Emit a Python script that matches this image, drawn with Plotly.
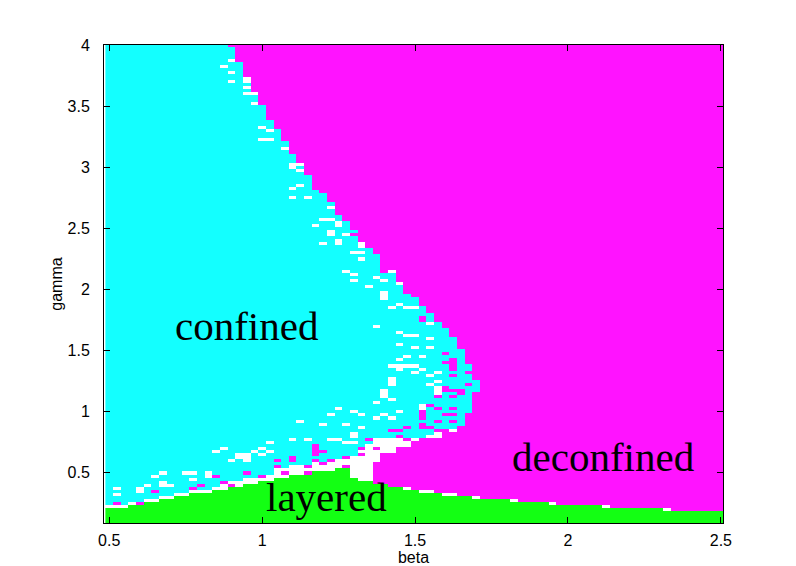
import numpy as np
import plotly.graph_objects as go

# scan grid (cell centres)
beta = np.round(np.arange(0.5, 2.5001, 0.025), 3)
gamma = np.round(np.arange(0.1, 4.0001, 0.025), 3)

# top green (layered) cell in every beta column
layered_top = [0.2, 0.2, 0.2, 0.225, 0.225, 0.25, 0.25, 0.275, 0.275, 0.3, 0.3,
               0.325, 0.325, 0.325, 0.35, 0.35, 0.375, 0.375, 0.4, 0.4, 0.425, 0.425,
               0.45, 0.45, 0.475, 0.475, 0.475, 0.5, 0.5, 0.5, 0.525, 0.525,
               0.45, 0.425, 0.425, 0.4, 0.4, 0.375, 0.375, 0.35, 0.35, 0.325, 0.325,
               0.325, 0.3, 0.3, 0.3, 0.3, 0.275, 0.275, 0.275, 0.275, 0.275,
               0.25, 0.25, 0.25, 0.25, 0.25, 0.225, 0.225, 0.225, 0.225, 0.225, 0.225, 0.225,
               0.2, 0.2, 0.2, 0.2, 0.2, 0.2, 0.2, 0.2,
               0.175, 0.175, 0.175, 0.175, 0.175, 0.175, 0.175, 0.175]

# lowest cyan (confined) cell in every beta column, white below it
confined_low = [0.25, 0.25, 0.25, 0.275, 0.275, 0.3, 0.3, 0.325, 0.325, 0.35, 0.35,
                0.375, 0.375, 0.375, 0.4, 0.425, 0.45, 0.45, 0.475, 0.475, 0.5, 0.5,
                0.55, 0.55, 0.575, 0.575, 0.575, 0.6, 0.6, 0.6, 0.625, 0.625,
                0.65, 0.7, 0.75, 0.8, 0.8, 0.8, 0.8, 0.8, 0.8, 0.8, 0.825,
                0.85, 0.85, 0.875, 0.9] + [1.0] * 34

# confined / deconfined edge: from gamma >= edge_gamma the last cyan column is edge_beta
edge_gamma = [4.0, 3.875, 3.75, 3.625, 3.525, 3.4, 3.325, 3.225, 3.125, 3.025,
              2.95, 2.825, 2.8, 2.725, 2.625, 2.575, 2.5, 2.4, 2.35, 2.3,
              2.15, 2.075, 1.975, 1.95, 1.875, 1.825, 1.75, 1.7, 1.625, 1.525,
              1.4, 1.275, 1.15, 1.0, 0.9, 0.85, 0.8, 0.775, 0.725, 0.675, 0.6, 0.1]
edge_beta = [0.875, 0.9, 0.925, 0.95, 0.975, 1.0, 1.025, 1.05, 1.075, 1.1,
             1.125, 1.15, 1.175, 1.2, 1.225, 1.25, 1.275, 1.3, 1.325, 1.35,
             1.375, 1.425, 1.45, 1.475, 1.5, 1.525, 1.55, 1.575, 1.6, 1.625,
             1.65, 1.675, 1.7, 1.675, 1.65, 1.625, 1.575, 1.5, 1.475, 1.425, 1.375, 1.35]

# undetermined (white) points
white_beta = [0.9, 0.875, 0.9, 0.9, 0.95, 0.95, 0.95, 0.95, 0.975, 0.975, 1.0, 1.025, 1.0, 1.025,
              1.075, 1.1, 1.1, 1.125, 1.125, 1.125, 1.1, 1.1, 1.15, 1.225, 1.2, 1.225, 1.25,
              1.175, 1.25, 1.225, 1.225, 1.275, 1.25, 1.25, 1.2, 1.325, 1.325, 1.3, 1.325,
              1.325, 1.275, 1.3, 1.3, 1.375, 1.4, 1.35, 1.425, 1.45, 1.4, 1.4, 1.4, 1.425,
              1.45, 1.475, 1.5, 1.375, 1.55, 1.45, 1.475, 1.5, 1.55, 1.45, 1.5, 1.55, 1.475,
              1.525, 1.45, 1.425, 1.45, 1.475, 1.5, 1.45, 1.525, 1.5, 1.575, 1.55, 1.425,
              1.425, 1.425, 1.55, 1.575, 1.4, 1.4, 1.4, 1.575, 1.575, 1.575, 1.375, 1.425,
              1.45, 1.525, 1.525, 1.25, 1.3, 1.325, 1.4, 1.275, 1.325, 1.375, 1.425, 1.3,
              1.3, 1.225, 1.25, 1.275, 1.3, 0.525, 0.525, 0.6, 0.6, 0.625, 0.65, 0.675,
              0.675, 0.675, 0.7, 0.75, 0.775, 0.775, 0.825, 0.825, 0.85, 0.875, 0.9, 0.925,
              0.95, 0.95, 0.975, 1.0, 1.025, 1.0, 1.1, 1.125, 1.15, 1.2, 1.225, 1.025,
              0.95, 0.925, 1.475, 1.525, 1.55, 1.6, 1.625, 1.7, 1.825, 1.95, 2.125, 2.325]
white_gamma = [3.875, 3.825, 3.775, 3.7, 3.725, 3.7, 3.65, 3.6, 3.6, 3.525, 3.325, 3.3, 3.225, 3.225,
               3.15, 3.025, 3.0, 3.025, 2.975, 2.85, 2.825, 2.75, 2.75, 2.675, 2.575, 2.575, 2.55,
               2.525, 2.525, 2.475, 2.45, 2.45, 2.4, 2.375, 2.375, 2.375, 2.35, 2.3, 2.3,
               2.25, 2.15, 2.125, 2.075, 2.1, 2.075, 2.025, 2.15, 2.05, 1.975, 1.95, 1.925, 1.85,
               1.875, 1.85, 1.85, 1.7, 1.725, 1.65, 1.625, 1.625, 1.6, 1.55, 1.525, 1.525, 1.45,
               1.45, 1.425, 1.375, 1.375, 1.375, 1.375, 1.35, 1.35, 1.325, 1.325, 1.3, 1.275,
               1.25, 1.225, 1.225, 1.25, 1.175, 1.15, 1.125, 1.2, 1.175, 1.15, 1.075, 1.1,
               1.0, 1.05, 1.025, 1.025, 1.0, 0.975, 0.975, 0.9, 0.875, 0.95, 0.95, 0.825,
               0.8, 0.775, 0.775, 0.75, 0.75, 0.375, 0.325, 0.375, 0.35, 0.4, 0.475, 0.5,
               0.425, 0.4, 0.4, 0.5, 0.5, 0.45, 0.5, 0.475, 0.675, 0.7, 0.6, 0.625,
               0.625, 0.6, 0.675, 0.7, 0.75, 0.65, 0.775, 0.925, 0.775, 0.9, 0.975, 0.675,
               0.65, 0.65, 0.375, 0.35, 0.35, 0.325, 0.325, 0.3, 0.275, 0.25, 0.225, 0.2]

# stray deconfined (magenta) points
pink_beta = [0.525, 0.6, 0.65, 0.775, 0.8, 0.85, 0.875, 0.9, 0.95, 1.0, 1.05, 1.05, 1.075,
             1.1, 1.1, 1.15, 1.15, 1.175, 1.175, 1.175, 1.175, 1.175, 1.2, 1.2, 1.225,
             1.275, 1.275, 1.325, 1.325, 1.375, 1.425, 1.35, 1.45, 1.475, 1.425, 1.45,
             1.475, 1.525, 1.55, 1.525, 1.575, 1.625, 1.575, 1.6, 1.525, 1.525, 1.525,
             1.6, 1.625, 1.625, 1.55, 1.575, 1.575, 1.625, 1.6, 1.6, 1.625, 1.65, 1.65,
             1.7, 1.675, 1.675, 1.625, 1.625, 1.625, 1.625, 1.6, 1.625, 1.6, 1.525, 1.525,
             1.4, 1.3]
pink_gamma = [0.25, 0.25, 0.35, 0.375, 0.4, 0.475, 0.425, 0.4, 0.5, 0.475, 0.6, 0.55, 0.5,
              0.625, 0.6, 0.55, 0.5, 0.725, 0.7, 0.675, 0.65, 0.6, 0.675, 0.575, 0.6,
              0.625, 0.55, 0.65, 0.7, 0.7, 0.65, 0.775, 0.8, 0.775, 0.85, 0.85,
              0.875, 0.9, 0.875, 0.875, 0.925, 0.925, 0.85, 0.85, 1.0, 0.975, 0.95,
              0.975, 0.975, 1.025, 1.05, 1.025, 1.125, 1.125, 1.2, 1.175, 1.175, 1.175, 1.15,
              1.15, 1.225, 1.325, 1.3, 1.4, 1.375, 1.35, 1.4, 1.425, 1.475, 1.775, 1.75,
              2.15, 2.45]

# 0 undetermined, 1 confined, 2 deconfined, 3 layered
z = np.ones((len(gamma), len(beta)), dtype=int)
eg = np.array(edge_gamma)
for j, g in enumerate(gamma):
    last = edge_beta[int(np.argmax(eg <= g + 1e-9))]
    for i, b in enumerate(beta):
        if g <= layered_top[i] + 1e-9:
            z[j, i] = 3
        elif b > last + 1e-9:
            z[j, i] = 2
        elif g < confined_low[i] - 1e-9:
            z[j, i] = 0

def cell(b, g):
    return int(round((g - gamma[0]) / 0.025)), int(round((b - beta[0]) / 0.025))

for b, g in zip(white_beta, white_gamma):
    z[cell(b, g)] = 0
for b, g in zip(pink_beta, pink_gamma):
    z[cell(b, g)] = 2

c_white, c_cyan, c_mag, c_green = "#ffffff", "#13ffff", "#ff13ff", "#13ff13"
cscale = [[0, c_white], [0.25, c_white], [0.25, c_cyan], [0.5, c_cyan],
          [0.5, c_mag], [0.75, c_mag], [0.75, c_green], [1, c_green]]

fig = go.Figure(go.Heatmap(x=beta, y=gamma, z=z, colorscale=cscale, zmin=-0.5, zmax=3.5,
                           showscale=False, hoverinfo="skip"))

axis_font = dict(family="Liberation Sans, Arial", size=16, color="black")
label_font = dict(family="Liberation Serif, Times New Roman", size=41, color="black")

# the page body adds 8 px on the left/top, so the figure is 8 px smaller
fig.update_layout(
    width=788, height=558,
    margin=dict(l=96, r=73, t=37, b=43, autoexpand=False),
    paper_bgcolor="white", plot_bgcolor="white",
    showlegend=False,
    xaxis=dict(range=[0.483, 2.507], tickvals=[0.5, 1, 1.5, 2, 2.5],
               ticktext=["0.5", "1", "1.5", "2", "2.5"], automargin=False,
               ticks="inside", ticklen=6, tickcolor="black", mirror="ticks",
               showline=True, linecolor="black", linewidth=1, showgrid=False, zeroline=False,
               tickfont=axis_font, ticklabelstandoff=3,
               title=dict(text="beta", font=axis_font, standoff=1)),
    yaxis=dict(range=[0.0875, 4], tickvals=[0.5, 1, 1.5, 2, 2.5, 3, 3.5, 4],
               ticktext=["0.5", "1", "1.5", "2", "2.5", "3", "3.5", "4"], automargin=False,
               ticks="inside", ticklen=6, tickcolor="black", mirror="ticks",
               showline=True, linecolor="black", linewidth=1, showgrid=False, zeroline=False,
               tickfont=axis_font, ticklabelstandoff=10,
               title=dict(text="gamma", font=axis_font, standoff=0)),
    annotations=[
        dict(x=0.95, y=1.70, text="confined", showarrow=False, font=label_font),
        dict(x=1.21, y=0.30, text="layered", showarrow=False, font=label_font),
        dict(x=2.115, y=0.63, text="deconfined", showarrow=False, font=label_font),
    ],
)

fig.write_html("out.html")
